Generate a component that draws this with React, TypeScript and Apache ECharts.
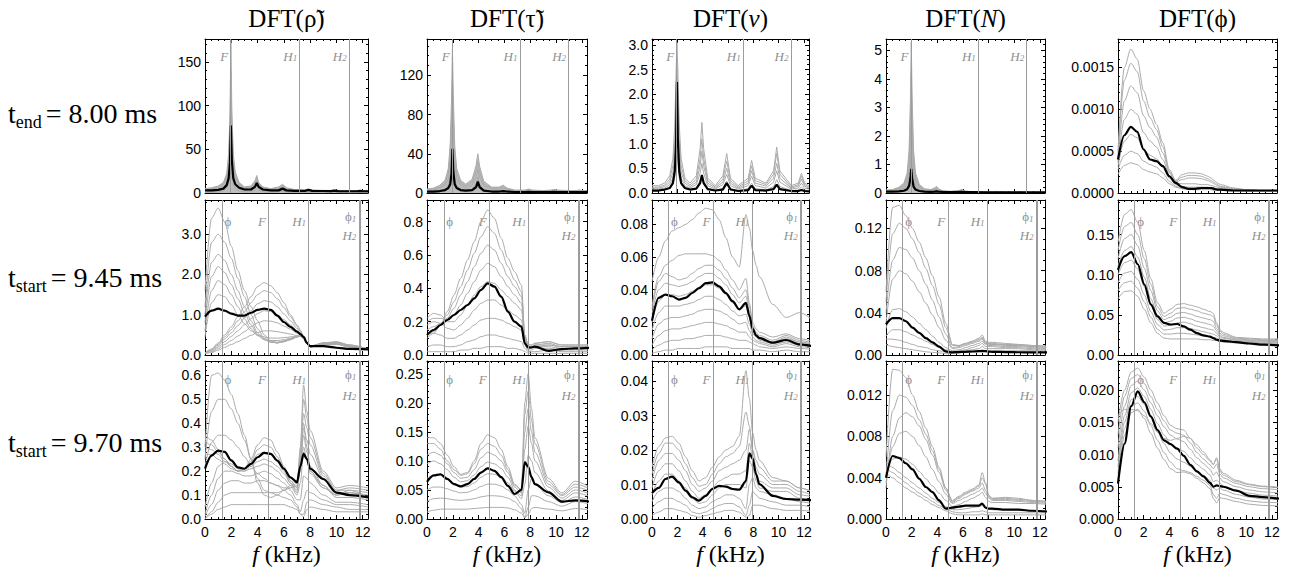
import React, { useEffect, useRef } from 'react';
import * as echarts from 'echarts';

// ---------- frequency grids (kHz) ----------
const F_SPIKE = [0, 0.5, 1.0, 1.4, 1.65, 1.8, 1.9, 1.97, 2.04, 2.15, 2.3, 2.6, 3.0, 3.5, 3.8, 3.94, 4.08, 4.4, 5.0, 5.6, 5.9, 6.2, 6.8, 7.6, 7.87, 8.15, 9.0, 9.6, 9.85, 10.1, 11.0, 11.55, 11.8, 12.05, 12.4];
const F_BASE = [0, 0.5, 1, 1.5, 2, 2.5, 3, 3.5, 4, 4.5, 5, 5.5, 6, 6.5, 7, 7.25, 7.5, 7.75, 8, 9, 10, 11, 12.4];
const F_C2 = [0, 0.52, 1.05, 1.57, 2.09, 2.61, 3.14, 3.66, 4.18, 4.7, 5.23, 5.75, 6.27, 6.79, 7.32, 7.58, 7.84, 8.1, 8.36, 9.41, 10.45, 11.5, 12.96];
const F_C3 = [0, 0.53, 1.06, 1.59, 2.12, 2.65, 3.18, 3.71, 4.24, 4.77, 5.3, 5.83, 6.36, 6.89, 7.42, 7.69, 7.95, 8.22, 8.48, 9.54, 10.6, 11.66, 13.14];
const F_C4 = [0, 0.52, 1.04, 1.55, 2.07, 2.59, 3.11, 3.62, 4.14, 4.66, 5.18, 5.69, 6.21, 6.73, 7.25, 7.5, 7.76, 8.02, 8.28, 9.32, 10.35, 11.39, 12.83];
const F_C5 = [0, 0.51, 1.03, 1.54, 2.05, 2.56, 3.08, 3.59, 4.1, 4.61, 5.13, 5.64, 6.15, 6.66, 7.18, 7.43, 7.69, 7.94, 8.2, 9.23, 10.25, 11.28, 12.71];

// ---------- row 1 : t_end = 8.00 ms ----------
const RHO_END_BLACK = [3, 3, 3.5, 5, 9, 17, 35, 77, 38, 17, 10, 6, 4, 4, 7, 11.5, 7, 4, 3, 3, 5, 3, 2.5, 2.5, 3.5, 2.5, 2.3, 2.2, 2.8, 2.2, 2, 2, 2.5, 2, 2];
const RHO_END_GRAY = [
  [5, 6, 8, 12, 22, 45, 90, 175, 95, 45, 24, 12, 7, 8, 14, 20, 12, 7, 5, 7, 10, 6, 4, 3, 4.5, 3.5, 3, 3, 3.5, 3, 2.5, 2.5, 3, 2.5, 2.5],
  [4, 5, 7, 11, 19, 38, 75, 140, 80, 38, 20, 10, 6, 7, 12, 17, 10, 6, 4.5, 6, 8, 5, 3.5, 3, 4, 3, 2.8, 2.8, 3.2, 2.8, 2.3, 2.3, 2.8, 2.3, 2.3],
  [3.5, 4, 6, 9, 16, 31, 60, 110, 63, 30, 17, 9, 5, 6, 10, 14, 9, 5, 4, 5, 7, 4.5, 3, 2.8, 3.5, 2.8, 2.5, 2.5, 3, 2.5, 2.2, 2.2, 2.6, 2.2, 2.1],
  [1, 1.5, 2.5, 5, 9, 18, 35, 60, 36, 17, 9, 4.5, 2.5, 3, 6, 9, 5, 2.5, 1.5, 2.5, 4, 2, 1, 1, 2, 1, 0.8, 0.8, 1.5, 0.8, 0.6, 0.6, 1.2, 0.6, 0.5],
  [0.5, 0.8, 1.2, 2.5, 5, 10, 18, 30, 18, 9, 5, 2.5, 1.2, 1.5, 3, 5, 3, 1.3, 0.8, 1.3, 2.2, 1.1, 0.5, 0.5, 1, 0.5, 0.4, 0.4, 0.8, 0.4, 0.3, 0.3, 0.6, 0.3, 0.3],
];
const TAU_END_BLACK = [1.5, 1.5, 2, 3, 5, 9, 20, 45, 22, 9, 5, 3, 2.5, 3, 6, 11.5, 6, 2.5, 1.5, 1.5, 2, 1.5, 1, 1, 1.3, 1, 1, 1, 1.2, 1, 0.8, 0.8, 1, 0.8, 0.8];
const TAU_END_GRAY = [
  [4, 5, 8, 13, 25, 50, 95, 147, 100, 48, 25, 13, 9, 14, 28, 40, 27, 12, 6, 6, 8, 5, 3, 3, 4, 3, 2.5, 3, 3.5, 3, 2.5, 2.5, 3, 2.5, 2.5],
  [3, 4, 6, 10, 20, 40, 75, 115, 78, 38, 20, 10, 7, 11, 22, 32, 21, 9, 5, 5, 6.5, 4, 2.5, 2.5, 3.5, 2.5, 2, 2.5, 3, 2.5, 2, 2, 2.5, 2, 2],
  [2, 3, 5, 8, 15, 30, 56, 85, 58, 28, 15, 8, 5, 8, 16, 24, 16, 7, 4, 4, 5, 3, 2, 2, 3, 2, 1.5, 2, 2.5, 2, 1.5, 1.5, 2, 1.5, 1.5],
  [1, 1.5, 2.5, 4, 8, 16, 30, 48, 31, 15, 8, 4, 2.5, 4, 9, 16, 9, 3.5, 2, 2, 3, 1.5, 1, 1, 1.5, 1, 0.8, 1, 1.2, 1, 0.8, 0.8, 1, 0.8, 0.8],
  [0.5, 0.8, 1.2, 2, 4, 8, 14, 22, 14, 7, 4, 2, 1.2, 2, 4, 7, 4, 1.5, 1, 1, 1.5, 0.8, 0.5, 0.5, 0.8, 0.5, 0.4, 0.5, 0.6, 0.5, 0.4, 0.4, 0.5, 0.4, 0.4],
];
const V_END_BLACK = [0.05, 0.05, 0.07, 0.1, 0.2, 0.45, 1.0, 2.25, 1.1, 0.45, 0.2, 0.1, 0.07, 0.09, 0.2, 0.36, 0.2, 0.08, 0.05, 0.07, 0.2, 0.07, 0.04, 0.06, 0.15, 0.06, 0.05, 0.08, 0.17, 0.08, 0.04, 0.04, 0.06, 0.04, 0.03];
const V_END_GRAY = [
  [0.15, 0.15, 0.2, 0.35, 0.7, 1.4, 2.4, 3.05, 2.5, 1.4, 0.7, 0.3, 0.2, 0.35, 0.9, 1.43, 0.9, 0.3, 0.15, 0.35, 0.8, 0.3, 0.15, 0.3, 0.66, 0.3, 0.2, 0.45, 0.93, 0.45, 0.15, 0.2, 0.4, 0.2, 0.15],
  [0.12, 0.12, 0.16, 0.28, 0.55, 1.1, 1.9, 2.7, 2.0, 1.1, 0.55, 0.25, 0.16, 0.28, 0.7, 1.1, 0.7, 0.25, 0.12, 0.28, 0.65, 0.25, 0.12, 0.25, 0.55, 0.25, 0.17, 0.38, 0.8, 0.38, 0.12, 0.17, 0.34, 0.17, 0.12],
  [0.1, 0.1, 0.13, 0.22, 0.42, 0.8, 1.5, 2.3, 1.6, 0.85, 0.42, 0.2, 0.13, 0.22, 0.55, 0.85, 0.55, 0.2, 0.1, 0.22, 0.5, 0.2, 0.1, 0.2, 0.45, 0.2, 0.14, 0.3, 0.6, 0.3, 0.1, 0.14, 0.28, 0.14, 0.1],
  [0.08, 0.08, 0.1, 0.17, 0.3, 0.55, 1.0, 1.6, 1.05, 0.55, 0.3, 0.15, 0.1, 0.17, 0.4, 0.6, 0.4, 0.15, 0.08, 0.17, 0.38, 0.15, 0.08, 0.15, 0.34, 0.15, 0.1, 0.22, 0.45, 0.22, 0.08, 0.1, 0.2, 0.1, 0.08],
  [0.05, 0.05, 0.06, 0.1, 0.18, 0.32, 0.6, 0.9, 0.62, 0.32, 0.18, 0.09, 0.06, 0.1, 0.25, 0.38, 0.25, 0.09, 0.05, 0.1, 0.24, 0.09, 0.05, 0.09, 0.2, 0.09, 0.06, 0.13, 0.27, 0.13, 0.05, 0.06, 0.12, 0.06, 0.05],
];
const N_END_BLACK = [0.05, 0.05, 0.06, 0.08, 0.13, 0.25, 0.5, 0.85, 0.5, 0.22, 0.12, 0.07, 0.05, 0.04, 0.05, 0.06, 0.05, 0.04, 0.03, 0.03, 0.04, 0.03, 0.03, 0.02, 0.02, 0.02, 0.02, 0.02, 0.02, 0.02, 0.02, 0.02, 0.02, 0.02, 0.02];
const N_END_GRAY = [
  [0.1, 0.12, 0.2, 0.35, 0.7, 1.5, 3.2, 5.3, 3.3, 1.5, 0.7, 0.3, 0.15, 0.12, 0.18, 0.23, 0.15, 0.08, 0.06, 0.08, 0.12, 0.07, 0.04, 0.03, 0.04, 0.03, 0.03, 0.03, 0.03, 0.03, 0.02, 0.02, 0.02, 0.02, 0.02],
  [0.09, 0.1, 0.16, 0.28, 0.55, 1.2, 2.5, 4.2, 2.6, 1.2, 0.55, 0.24, 0.12, 0.1, 0.15, 0.2, 0.13, 0.07, 0.05, 0.07, 0.1, 0.06, 0.04, 0.03, 0.03, 0.03, 0.03, 0.03, 0.03, 0.03, 0.02, 0.02, 0.02, 0.02, 0.02],
  [0.08, 0.09, 0.13, 0.22, 0.42, 0.9, 1.8, 3.0, 1.85, 0.88, 0.42, 0.19, 0.1, 0.08, 0.12, 0.16, 0.11, 0.06, 0.04, 0.06, 0.08, 0.05, 0.03, 0.03, 0.03, 0.03, 0.02, 0.02, 0.02, 0.02, 0.02, 0.02, 0.02, 0.02, 0.02],
  [0.06, 0.07, 0.1, 0.16, 0.28, 0.58, 1.1, 1.8, 1.12, 0.55, 0.27, 0.13, 0.08, 0.06, 0.09, 0.12, 0.08, 0.05, 0.03, 0.05, 0.06, 0.04, 0.03, 0.02, 0.02, 0.02, 0.02, 0.02, 0.02, 0.02, 0.02, 0.02, 0.02, 0.02, 0.02],
  [0.05, 0.06, 0.08, 0.12, 0.2, 0.4, 0.75, 1.2, 0.76, 0.38, 0.19, 0.1, 0.06, 0.05, 0.07, 0.09, 0.06, 0.04, 0.03, 0.04, 0.05, 0.03, 0.02, 0.02, 0.02, 0.02, 0.02, 0.02, 0.02, 0.02, 0.02, 0.02, 0.02, 0.02, 0.02],
];
const PHI_END_BLACK = [0.0004, 0.00069, 0.00079, 0.00073, 0.00052, 0.0004, 0.00038, 0.00032, 0.0002, 0.00012, 0.00007, 0.00005, 0.00005, 0.00006, 0.00006, 0.00006, 0.00005, 0.00004, 0.00004, 0.00003, 0.00003, 0.00003, 0.00003];
const PHI_END_GRAY = [
  [0.0005, 0.0015, 0.00172, 0.0016, 0.00122, 0.001, 0.00082, 0.0006, 0.00028, 0.00015, 0.00022, 0.00024, 0.00024, 0.00023, 0.0002, 0.00018, 0.00015, 0.00012, 0.0001, 0.00006, 0.00004, 0.00003, 0.00003],
  [0.00045, 0.00135, 0.00155, 0.00145, 0.0011, 0.0009, 0.00076, 0.00055, 0.00026, 0.00014, 0.00019, 0.00021, 0.00021, 0.0002, 0.00017, 0.00015, 0.00013, 0.0001, 0.00008, 0.00005, 0.00004, 0.00003, 0.00003],
  [0.0004, 0.0011, 0.00128, 0.0012, 0.00092, 0.00078, 0.00067, 0.00048, 0.00024, 0.00013, 0.00016, 0.00018, 0.00018, 0.00017, 0.00015, 0.00013, 0.00011, 0.00009, 0.00007, 0.00005, 0.00004, 0.00003, 0.00003],
  [0.00036, 0.00088, 0.001, 0.00094, 0.00072, 0.00062, 0.00055, 0.0004, 0.00021, 0.00012, 0.00011, 0.00011, 0.00011, 0.0001, 0.0001, 0.00009, 0.00008, 0.00007, 0.00006, 0.00004, 0.00003, 0.00003, 0.00003],
  [0.00032, 0.00062, 0.0007, 0.00066, 0.00052, 0.00045, 0.00041, 0.00031, 0.00018, 0.0001, 0.00008, 0.00007, 0.00007, 0.00007, 0.00007, 0.00006, 0.00006, 0.00005, 0.00005, 0.00004, 0.00003, 0.00003, 0.00003],
  [0.00028, 0.00045, 0.0005, 0.00047, 0.00038, 0.00034, 0.00031, 0.00024, 0.00014, 0.00008, 0.00006, 0.00005, 0.00005, 0.00005, 0.00005, 0.00005, 0.00004, 0.00004, 0.00004, 0.00003, 0.00003, 0.00003, 0.00002],
  [0.00022, 0.00033, 0.00036, 0.00034, 0.00028, 0.00025, 0.00023, 0.00018, 0.00011, 0.00007, 0.00005, 0.00004, 0.00004, 0.00004, 0.00004, 0.00004, 0.00003, 0.00003, 0.00003, 0.00003, 0.00002, 0.00002, 0.00002],
];

// ---------- row 2 : t_start = 9.45 ms ----------
const RHO_A_BLACK = [0.95, 1.1, 1.15, 1.1, 1.03, 0.98, 0.98, 1.05, 1.12, 1.15, 1.12, 0.98, 0.82, 0.7, 0.58, 0.52, 0.45, 0.3, 0.22, 0.22, 0.18, 0.15, 0.14];
const RHO_A_GRAY = [
  [1.6, 3.4, 3.65, 3.3, 2.7, 2.1, 1.6, 1.2, 0.85, 0.5, 0.35, 0.3, 0.35, 0.4, 0.48, 0.5, 0.45, 0.3, 0.2, 0.3, 0.32, 0.25, 0.15],
  [1.2, 2.8, 3.0, 2.8, 2.4, 1.9, 1.45, 1.0, 0.65, 0.42, 0.32, 0.3, 0.33, 0.38, 0.45, 0.48, 0.44, 0.3, 0.2, 0.29, 0.3, 0.24, 0.15],
  [1.0, 2.3, 2.5, 2.35, 2.0, 1.6, 1.2, 0.85, 0.55, 0.38, 0.32, 0.3, 0.33, 0.38, 0.44, 0.47, 0.43, 0.3, 0.2, 0.28, 0.29, 0.23, 0.15],
  [0.8, 1.95, 2.2, 2.05, 1.75, 1.4, 1.05, 0.75, 0.5, 0.38, 0.33, 0.32, 0.35, 0.4, 0.45, 0.47, 0.43, 0.3, 0.2, 0.27, 0.28, 0.22, 0.15],
  [0.6, 1.6, 1.85, 1.75, 1.5, 1.2, 0.9, 0.65, 0.48, 0.4, 0.36, 0.36, 0.38, 0.42, 0.46, 0.47, 0.43, 0.3, 0.2, 0.26, 0.27, 0.21, 0.15],
  [0.45, 1.3, 1.5, 1.45, 1.25, 1.0, 0.78, 0.6, 0.5, 0.45, 0.42, 0.42, 0.43, 0.45, 0.47, 0.47, 0.43, 0.3, 0.2, 0.25, 0.26, 0.2, 0.15],
  [0.05, 0.15, 0.3, 0.5, 0.7, 0.95, 1.2, 1.45, 1.7, 1.8, 1.72, 1.55, 1.3, 1.0, 0.75, 0.62, 0.45, 0.3, 0.22, 0.3, 0.33, 0.25, 0.15],
  [0.05, 0.13, 0.27, 0.45, 0.63, 0.85, 1.07, 1.3, 1.5, 1.6, 1.55, 1.4, 1.18, 0.95, 0.72, 0.6, 0.44, 0.3, 0.22, 0.3, 0.32, 0.24, 0.15],
  [0.05, 0.12, 0.24, 0.4, 0.55, 0.73, 0.92, 1.1, 1.27, 1.35, 1.32, 1.2, 1.02, 0.85, 0.66, 0.58, 0.44, 0.3, 0.22, 0.29, 0.31, 0.23, 0.15],
  [0.05, 0.1, 0.2, 0.33, 0.46, 0.6, 0.75, 0.9, 1.03, 1.1, 1.08, 1.0, 0.88, 0.75, 0.6, 0.55, 0.43, 0.3, 0.22, 0.28, 0.3, 0.22, 0.15],
  [0.04, 0.08, 0.16, 0.26, 0.36, 0.47, 0.58, 0.7, 0.8, 0.85, 0.84, 0.8, 0.72, 0.64, 0.54, 0.5, 0.42, 0.3, 0.21, 0.27, 0.28, 0.21, 0.15],
  [0.03, 0.06, 0.12, 0.19, 0.26, 0.33, 0.41, 0.49, 0.56, 0.6, 0.6, 0.58, 0.55, 0.52, 0.48, 0.46, 0.4, 0.28, 0.2, 0.26, 0.27, 0.2, 0.14],
];
const TAU_A_BLACK = [0.12, 0.15, 0.18, 0.21, 0.24, 0.27, 0.3, 0.34, 0.39, 0.43, 0.41, 0.35, 0.26, 0.2, 0.17, 0.07, 0.045, 0.045, 0.05, 0.025, 0.035, 0.04, 0.045];
const TAU_A_GRAY = [
  [0.1, 0.13, 0.18, 0.26, 0.36, 0.46, 0.57, 0.68, 0.8, 0.87, 0.82, 0.7, 0.58, 0.5, 0.42, 0.12, 0.06, 0.06, 0.07, 0.08, 0.06, 0.06, 0.06],
  [0.12, 0.14, 0.18, 0.24, 0.32, 0.41, 0.51, 0.61, 0.71, 0.77, 0.73, 0.63, 0.53, 0.45, 0.38, 0.12, 0.06, 0.06, 0.07, 0.08, 0.06, 0.06, 0.06],
  [0.15, 0.17, 0.19, 0.22, 0.28, 0.36, 0.44, 0.53, 0.61, 0.66, 0.63, 0.55, 0.47, 0.41, 0.35, 0.11, 0.05, 0.05, 0.06, 0.07, 0.05, 0.05, 0.05],
  [0.2, 0.22, 0.22, 0.21, 0.24, 0.3, 0.37, 0.44, 0.51, 0.55, 0.53, 0.47, 0.41, 0.36, 0.31, 0.1, 0.05, 0.05, 0.06, 0.06, 0.05, 0.05, 0.05],
  [0.22, 0.25, 0.24, 0.2, 0.2, 0.24, 0.3, 0.36, 0.41, 0.44, 0.43, 0.39, 0.35, 0.31, 0.27, 0.09, 0.05, 0.05, 0.05, 0.06, 0.05, 0.05, 0.05],
  [0.18, 0.2, 0.19, 0.16, 0.15, 0.18, 0.22, 0.27, 0.31, 0.33, 0.33, 0.3, 0.27, 0.24, 0.21, 0.08, 0.04, 0.04, 0.05, 0.05, 0.04, 0.04, 0.04],
  [0.12, 0.13, 0.12, 0.1, 0.1, 0.12, 0.15, 0.18, 0.21, 0.22, 0.22, 0.21, 0.19, 0.17, 0.15, 0.06, 0.03, 0.03, 0.04, 0.04, 0.03, 0.03, 0.03],
  [0.05, 0.06, 0.06, 0.05, 0.05, 0.06, 0.08, 0.09, 0.11, 0.12, 0.12, 0.11, 0.1, 0.09, 0.08, 0.04, 0.02, 0.02, 0.02, 0.03, 0.02, 0.02, 0.02],
  [0.02, 0.02, 0.02, 0.02, 0.02, 0.03, 0.03, 0.04, 0.04, 0.05, 0.05, 0.05, 0.04, 0.04, 0.03, 0.02, 0.01, 0.01, 0.01, 0.01, 0.01, 0.01, 0.01],
];
const V_A_BLACK = [0.021, 0.035, 0.037, 0.036, 0.034, 0.035, 0.038, 0.041, 0.044, 0.0445, 0.042, 0.038, 0.033, 0.028, 0.032, 0.024, 0.016, 0.012, 0.0103, 0.0075, 0.0092, 0.0065, 0.0045];
const V_A_GRAY = [
  [0.045, 0.06, 0.07, 0.076, 0.078, 0.08, 0.083, 0.087, 0.09, 0.089, 0.083, 0.072, 0.06, 0.054, 0.086, 0.078, 0.064, 0.055, 0.048, 0.031, 0.023, 0.026, 0.018],
  [0.03, 0.048, 0.055, 0.058, 0.061, 0.062, 0.062, 0.062, 0.062, 0.061, 0.058, 0.052, 0.046, 0.04, 0.047, 0.032, 0.02, 0.016, 0.014, 0.011, 0.013, 0.01, 0.007],
  [0.028, 0.045, 0.05, 0.048, 0.046, 0.047, 0.05, 0.053, 0.055, 0.055, 0.052, 0.047, 0.041, 0.035, 0.04, 0.03, 0.018, 0.014, 0.012, 0.009, 0.012, 0.009, 0.006],
  [0.025, 0.04, 0.044, 0.043, 0.042, 0.043, 0.045, 0.048, 0.05, 0.05, 0.047, 0.043, 0.037, 0.032, 0.036, 0.027, 0.017, 0.013, 0.011, 0.008, 0.011, 0.008, 0.006],
  [0.02, 0.033, 0.037, 0.037, 0.036, 0.037, 0.039, 0.041, 0.043, 0.043, 0.041, 0.037, 0.032, 0.028, 0.03, 0.023, 0.015, 0.012, 0.01, 0.008, 0.01, 0.008, 0.005],
  [0.015, 0.026, 0.03, 0.03, 0.03, 0.031, 0.032, 0.034, 0.036, 0.036, 0.034, 0.031, 0.027, 0.024, 0.025, 0.019, 0.013, 0.011, 0.009, 0.007, 0.009, 0.007, 0.005],
  [0.01, 0.019, 0.022, 0.023, 0.023, 0.024, 0.025, 0.027, 0.028, 0.028, 0.027, 0.025, 0.022, 0.019, 0.02, 0.015, 0.011, 0.009, 0.008, 0.006, 0.008, 0.006, 0.004],
  [0.006, 0.012, 0.015, 0.016, 0.016, 0.017, 0.018, 0.019, 0.02, 0.02, 0.019, 0.018, 0.016, 0.014, 0.014, 0.011, 0.009, 0.008, 0.007, 0.005, 0.007, 0.005, 0.004],
  [0.003, 0.006, 0.008, 0.009, 0.009, 0.01, 0.01, 0.011, 0.012, 0.012, 0.012, 0.011, 0.01, 0.009, 0.009, 0.008, 0.007, 0.006, 0.005, 0.004, 0.005, 0.004, 0.003],
  [0.001, 0.002, 0.003, 0.003, 0.004, 0.004, 0.004, 0.004, 0.005, 0.005, 0.005, 0.005, 0.004, 0.004, 0.004, 0.004, 0.003, 0.003, 0.003, 0.002, 0.003, 0.002, 0.002],
];
const N_A_BLACK = [0.029, 0.035, 0.035, 0.032, 0.026, 0.021, 0.016, 0.012, 0.008, 0.0035, 0.0025, 0.0028, 0.003, 0.0033, 0.0036, 0.0037, 0.0036, 0.0032, 0.003, 0.0028, 0.0026, 0.0025, 0.0024];
const N_A_GRAY = [
  [0.06, 0.14, 0.142, 0.132, 0.12, 0.107, 0.092, 0.075, 0.055, 0.03, 0.01, 0.009, 0.011, 0.013, 0.016, 0.019, 0.013, 0.012, 0.012, 0.011, 0.01, 0.009, 0.008],
  [0.05, 0.115, 0.125, 0.12, 0.11, 0.097, 0.082, 0.066, 0.048, 0.026, 0.009, 0.009, 0.011, 0.013, 0.015, 0.017, 0.012, 0.011, 0.011, 0.01, 0.01, 0.009, 0.008],
  [0.04, 0.09, 0.102, 0.1, 0.092, 0.08, 0.067, 0.052, 0.036, 0.02, 0.007, 0.008, 0.01, 0.012, 0.014, 0.016, 0.011, 0.011, 0.01, 0.01, 0.009, 0.008, 0.007],
  [0.03, 0.072, 0.08, 0.077, 0.07, 0.06, 0.049, 0.038, 0.026, 0.014, 0.006, 0.007, 0.009, 0.011, 0.013, 0.015, 0.011, 0.01, 0.01, 0.009, 0.009, 0.008, 0.007],
  [0.025, 0.043, 0.044, 0.041, 0.036, 0.03, 0.024, 0.018, 0.012, 0.007, 0.004, 0.005, 0.007, 0.009, 0.011, 0.013, 0.01, 0.009, 0.009, 0.008, 0.008, 0.007, 0.006],
  [0.018, 0.024, 0.024, 0.022, 0.019, 0.016, 0.013, 0.01, 0.007, 0.005, 0.003, 0.004, 0.005, 0.007, 0.009, 0.011, 0.008, 0.008, 0.008, 0.007, 0.007, 0.006, 0.006],
  [0.015, 0.015, 0.014, 0.012, 0.01, 0.008, 0.007, 0.005, 0.004, 0.003, 0.002, 0.003, 0.004, 0.005, 0.006, 0.008, 0.006, 0.006, 0.006, 0.006, 0.006, 0.005, 0.005],
  [0.01, 0.008, 0.007, 0.006, 0.005, 0.004, 0.003, 0.0025, 0.002, 0.0015, 0.0015, 0.002, 0.003, 0.003, 0.004, 0.005, 0.004, 0.004, 0.004, 0.004, 0.004, 0.004, 0.004],
];
const PHI_A_BLACK = [0.106, 0.123, 0.128, 0.113, 0.088, 0.063, 0.048, 0.04, 0.038, 0.0386, 0.0357, 0.0315, 0.0273, 0.0244, 0.023, 0.021, 0.019, 0.018, 0.0176, 0.016, 0.0143, 0.013, 0.0118];
const PHI_A_GRAY = [
  [0.14, 0.175, 0.181, 0.165, 0.13, 0.095, 0.065, 0.052, 0.057, 0.063, 0.064, 0.062, 0.06, 0.057, 0.054, 0.052, 0.04, 0.032, 0.028, 0.022, 0.021, 0.02, 0.02],
  [0.13, 0.16, 0.165, 0.15, 0.12, 0.088, 0.06, 0.048, 0.052, 0.058, 0.059, 0.057, 0.055, 0.052, 0.05, 0.048, 0.037, 0.03, 0.026, 0.021, 0.02, 0.019, 0.019],
  [0.12, 0.145, 0.15, 0.136, 0.108, 0.08, 0.055, 0.044, 0.047, 0.052, 0.053, 0.051, 0.048, 0.046, 0.044, 0.042, 0.033, 0.027, 0.024, 0.02, 0.019, 0.018, 0.018],
  [0.11, 0.13, 0.135, 0.122, 0.097, 0.07, 0.05, 0.04, 0.042, 0.046, 0.047, 0.045, 0.042, 0.04, 0.038, 0.036, 0.03, 0.025, 0.022, 0.019, 0.018, 0.017, 0.017],
  [0.1, 0.115, 0.118, 0.107, 0.085, 0.062, 0.044, 0.036, 0.037, 0.04, 0.041, 0.039, 0.036, 0.034, 0.032, 0.031, 0.027, 0.023, 0.021, 0.018, 0.017, 0.016, 0.016],
  [0.09, 0.102, 0.104, 0.094, 0.075, 0.054, 0.038, 0.031, 0.032, 0.034, 0.034, 0.033, 0.031, 0.029, 0.027, 0.026, 0.024, 0.021, 0.019, 0.017, 0.016, 0.015, 0.015],
  [0.08, 0.09, 0.092, 0.083, 0.066, 0.047, 0.032, 0.026, 0.026, 0.027, 0.027, 0.026, 0.025, 0.024, 0.023, 0.022, 0.021, 0.019, 0.018, 0.016, 0.015, 0.014, 0.014],
  [0.07, 0.079, 0.08, 0.073, 0.057, 0.04, 0.027, 0.021, 0.02, 0.02, 0.02, 0.02, 0.02, 0.019, 0.019, 0.018, 0.018, 0.017, 0.016, 0.015, 0.014, 0.013, 0.013],
];

// ---------- row 3 : t_start = 9.70 ms ----------
const RHO_B_BLACK = [0.21, 0.265, 0.286, 0.28, 0.245, 0.216, 0.21, 0.23, 0.258, 0.276, 0.272, 0.244, 0.21, 0.174, 0.153, 0.22, 0.272, 0.25, 0.21, 0.167, 0.11, 0.1, 0.09];
const RHO_B_GRAY = [
  [0.3, 0.6, 0.61, 0.58, 0.52, 0.44, 0.35, 0.25, 0.15, 0.1, 0.09, 0.1, 0.12, 0.14, 0.16, 0.25, 0.4, 0.3, 0.22, 0.14, 0.1, 0.12, 0.09],
  [0.25, 0.45, 0.5, 0.5, 0.46, 0.4, 0.33, 0.25, 0.17, 0.12, 0.11, 0.11, 0.12, 0.13, 0.15, 0.22, 0.35, 0.28, 0.2, 0.13, 0.1, 0.11, 0.09],
  [0.22, 0.32, 0.35, 0.35, 0.33, 0.3, 0.26, 0.22, 0.19, 0.17, 0.15, 0.14, 0.13, 0.13, 0.14, 0.2, 0.3, 0.25, 0.19, 0.13, 0.1, 0.11, 0.09],
  [0.35, 0.33, 0.29, 0.25, 0.22, 0.2, 0.21, 0.25, 0.31, 0.34, 0.33, 0.28, 0.22, 0.16, 0.13, 0.3, 0.56, 0.45, 0.37, 0.2, 0.13, 0.14, 0.13],
  [0.32, 0.31, 0.28, 0.25, 0.22, 0.2, 0.21, 0.24, 0.29, 0.31, 0.3, 0.26, 0.21, 0.16, 0.13, 0.28, 0.5, 0.42, 0.34, 0.19, 0.12, 0.13, 0.12],
  [0.3, 0.29, 0.27, 0.24, 0.22, 0.2, 0.21, 0.23, 0.27, 0.28, 0.27, 0.24, 0.2, 0.15, 0.12, 0.25, 0.44, 0.38, 0.31, 0.18, 0.12, 0.12, 0.11],
  [0.27, 0.27, 0.25, 0.23, 0.21, 0.2, 0.2, 0.22, 0.24, 0.25, 0.24, 0.22, 0.19, 0.15, 0.11, 0.22, 0.38, 0.33, 0.27, 0.17, 0.11, 0.11, 0.1],
  [0.05, 0.15, 0.22, 0.24, 0.23, 0.21, 0.2, 0.21, 0.22, 0.23, 0.22, 0.2, 0.17, 0.14, 0.1, 0.15, 0.28, 0.25, 0.2, 0.14, 0.09, 0.09, 0.08],
  [0.02, 0.1, 0.17, 0.2, 0.2, 0.19, 0.18, 0.18, 0.19, 0.2, 0.19, 0.17, 0.15, 0.12, 0.08, 0.08, 0.18, 0.17, 0.15, 0.1, 0.07, 0.07, 0.06],
  [0.01, 0.06, 0.12, 0.15, 0.16, 0.16, 0.15, 0.15, 0.16, 0.16, 0.15, 0.14, 0.12, 0.1, 0.06, 0.03, 0.08, 0.12, 0.11, 0.08, 0.06, 0.06, 0.05],
  [0.0, 0.03, 0.07, 0.1, 0.11, 0.11, 0.11, 0.11, 0.11, 0.11, 0.11, 0.1, 0.09, 0.08, 0.05, 0.02, 0.02, 0.07, 0.08, 0.06, 0.05, 0.04, 0.04],
  [0.0, 0.02, 0.04, 0.05, 0.06, 0.06, 0.06, 0.06, 0.06, 0.06, 0.06, 0.06, 0.06, 0.05, 0.04, 0.02, 0.01, 0.04, 0.05, 0.04, 0.03, 0.03, 0.03],
];
const TAU_B_BLACK = [0.064, 0.075, 0.077, 0.069, 0.06, 0.056, 0.06, 0.069, 0.08, 0.087, 0.083, 0.072, 0.057, 0.043, 0.05, 0.098, 0.09, 0.072, 0.06, 0.046, 0.03, 0.032, 0.029];
const TAU_B_GRAY = [
  [0.14, 0.14, 0.13, 0.11, 0.09, 0.077, 0.08, 0.1, 0.13, 0.145, 0.14, 0.12, 0.09, 0.06, 0.05, 0.2, 0.25, 0.19, 0.14, 0.07, 0.045, 0.065, 0.05],
  [0.13, 0.13, 0.12, 0.1, 0.085, 0.075, 0.078, 0.095, 0.12, 0.13, 0.125, 0.11, 0.085, 0.058, 0.05, 0.18, 0.22, 0.17, 0.13, 0.065, 0.042, 0.06, 0.048],
  [0.11, 0.115, 0.11, 0.095, 0.08, 0.07, 0.072, 0.085, 0.105, 0.115, 0.11, 0.1, 0.08, 0.055, 0.045, 0.15, 0.19, 0.15, 0.115, 0.06, 0.04, 0.055, 0.045],
  [0.095, 0.1, 0.095, 0.085, 0.072, 0.064, 0.066, 0.076, 0.09, 0.098, 0.095, 0.087, 0.072, 0.05, 0.04, 0.12, 0.16, 0.13, 0.1, 0.055, 0.036, 0.05, 0.04],
  [0.07, 0.075, 0.075, 0.068, 0.06, 0.055, 0.056, 0.062, 0.072, 0.078, 0.077, 0.072, 0.062, 0.048, 0.035, 0.06, 0.11, 0.1, 0.08, 0.048, 0.032, 0.045, 0.036],
  [0.05, 0.055, 0.055, 0.052, 0.048, 0.045, 0.046, 0.05, 0.056, 0.06, 0.06, 0.057, 0.05, 0.04, 0.025, 0.01, 0.05, 0.07, 0.06, 0.04, 0.028, 0.038, 0.03],
  [0.03, 0.035, 0.036, 0.035, 0.033, 0.032, 0.033, 0.035, 0.038, 0.04, 0.04, 0.039, 0.036, 0.03, 0.018, 0.003, 0.02, 0.04, 0.04, 0.03, 0.022, 0.03, 0.024],
  [0.012, 0.015, 0.017, 0.017, 0.017, 0.017, 0.017, 0.018, 0.019, 0.02, 0.02, 0.02, 0.019, 0.016, 0.01, 0.002, 0.008, 0.018, 0.02, 0.017, 0.014, 0.018, 0.015],
];
const V_B_BLACK = [0.0075, 0.009, 0.0116, 0.0123, 0.0106, 0.0082, 0.0063, 0.0053, 0.0067, 0.0087, 0.0096, 0.0094, 0.0087, 0.0085, 0.011, 0.019, 0.0175, 0.013, 0.0101, 0.0067, 0.0058, 0.0056, 0.0053];
const V_B_GRAY = [
  [0.015, 0.021, 0.0235, 0.024, 0.022, 0.018, 0.014, 0.011, 0.012, 0.015, 0.018, 0.02, 0.021, 0.024, 0.043, 0.035, 0.025, 0.02, 0.017, 0.012, 0.011, 0.009, 0.007],
  [0.013, 0.019, 0.022, 0.022, 0.02, 0.016, 0.012, 0.0095, 0.01, 0.013, 0.016, 0.018, 0.019, 0.021, 0.031, 0.027, 0.02, 0.017, 0.015, 0.011, 0.011, 0.009, 0.007],
  [0.011, 0.017, 0.019, 0.019, 0.017, 0.014, 0.01, 0.008, 0.009, 0.011, 0.014, 0.015, 0.016, 0.017, 0.02, 0.026, 0.02, 0.015, 0.013, 0.01, 0.01, 0.008, 0.006],
  [0.009, 0.014, 0.016, 0.016, 0.014, 0.011, 0.008, 0.006, 0.007, 0.009, 0.011, 0.012, 0.013, 0.013, 0.014, 0.022, 0.018, 0.013, 0.011, 0.009, 0.009, 0.007, 0.006],
  [0.007, 0.011, 0.013, 0.013, 0.011, 0.009, 0.006, 0.0045, 0.005, 0.007, 0.009, 0.01, 0.01, 0.01, 0.009, 0.017, 0.015, 0.011, 0.009, 0.008, 0.008, 0.006, 0.005],
  [0.005, 0.008, 0.009, 0.009, 0.008, 0.006, 0.004, 0.003, 0.0035, 0.005, 0.006, 0.007, 0.007, 0.006, 0.003, 0.01, 0.012, 0.009, 0.008, 0.007, 0.006, 0.005, 0.004],
  [0.003, 0.005, 0.006, 0.006, 0.005, 0.004, 0.002, 0.0015, 0.002, 0.003, 0.004, 0.0045, 0.0045, 0.0035, 0.001, 0.004, 0.008, 0.007, 0.006, 0.005, 0.004, 0.004, 0.003],
  [0.001, 0.002, 0.003, 0.003, 0.0025, 0.002, 0.001, 0.0005, 0.001, 0.0015, 0.002, 0.0025, 0.0025, 0.002, 0.0005, 0.001, 0.004, 0.004, 0.004, 0.003, 0.0025, 0.0025, 0.002],
];
const N_B_BLACK = [0.004, 0.0061, 0.0059, 0.0054, 0.0048, 0.0039, 0.0031, 0.0026, 0.0018, 0.001, 0.0011, 0.0012, 0.0013, 0.0013, 0.0013, 0.0015, 0.0011, 0.001, 0.001, 0.0009, 0.0009, 0.0008, 0.0007];
const N_B_GRAY = [
  [0.006, 0.0145, 0.0144, 0.0137, 0.012, 0.0104, 0.0088, 0.007, 0.005, 0.003, 0.0018, 0.0022, 0.0026, 0.0029, 0.0033, 0.0045, 0.0035, 0.0023, 0.002, 0.0021, 0.002, 0.0018, 0.0017],
  [0.004, 0.0105, 0.012, 0.0118, 0.011, 0.0096, 0.0082, 0.0066, 0.0048, 0.003, 0.0017, 0.0021, 0.0025, 0.0028, 0.0032, 0.004, 0.0034, 0.0022, 0.002, 0.002, 0.0019, 0.0018, 0.0016],
  [0.003, 0.008, 0.0098, 0.0103, 0.0099, 0.009, 0.0077, 0.0062, 0.0045, 0.0028, 0.0016, 0.002, 0.0024, 0.0027, 0.003, 0.0035, 0.0028, 0.0021, 0.0019, 0.0019, 0.0018, 0.0017, 0.0016],
  [0.0035, 0.007, 0.0083, 0.0085, 0.008, 0.0071, 0.006, 0.0048, 0.0036, 0.0024, 0.0015, 0.0018, 0.0021, 0.0024, 0.0027, 0.003, 0.0025, 0.002, 0.0018, 0.0018, 0.0017, 0.0016, 0.0015],
  [0.0045, 0.0058, 0.006, 0.0058, 0.0053, 0.0046, 0.0039, 0.0032, 0.0025, 0.0018, 0.0012, 0.0014, 0.0017, 0.002, 0.0023, 0.0026, 0.0021, 0.0017, 0.0016, 0.0016, 0.0015, 0.0015, 0.0014],
  [0.0055, 0.005, 0.0045, 0.004, 0.0035, 0.003, 0.0025, 0.002, 0.0016, 0.0012, 0.0009, 0.0009, 0.001, 0.0011, 0.0012, 0.0013, 0.0011, 0.001, 0.0009, 0.0009, 0.0009, 0.0008, 0.0008],
  [0.005, 0.0045, 0.004, 0.0035, 0.003, 0.0025, 0.0021, 0.0017, 0.0013, 0.001, 0.0007, 0.0006, 0.0006, 0.0007, 0.0007, 0.0008, 0.0007, 0.0006, 0.0006, 0.0006, 0.0006, 0.0006, 0.0006],
  [0.0045, 0.004, 0.0035, 0.003, 0.0026, 0.0022, 0.0018, 0.0014, 0.0011, 0.0008, 0.0005, 0.0004, 0.0004, 0.0004, 0.0004, 0.0005, 0.0004, 0.0004, 0.0004, 0.0004, 0.0004, 0.0004, 0.0004],
];
const PHI_B_BLACK = [0.0055, 0.0117, 0.0175, 0.0198, 0.0181, 0.0159, 0.0138, 0.0122, 0.0116, 0.0109, 0.0098, 0.0084, 0.0074, 0.0066, 0.0056, 0.005, 0.0052, 0.0051, 0.005, 0.0044, 0.0036, 0.0034, 0.0031];
const PHI_B_GRAY = [
  [0.015, 0.02, 0.0228, 0.0234, 0.022, 0.02, 0.018, 0.016, 0.0145, 0.014, 0.0138, 0.0125, 0.011, 0.01, 0.009, 0.0085, 0.0093, 0.0075, 0.0068, 0.0058, 0.0053, 0.005, 0.0048],
  [0.013, 0.019, 0.0218, 0.0224, 0.021, 0.019, 0.017, 0.0152, 0.0138, 0.0133, 0.013, 0.0118, 0.0103, 0.0093, 0.0084, 0.0078, 0.0085, 0.007, 0.0064, 0.0055, 0.005, 0.0047, 0.0045],
  [0.011, 0.0175, 0.0207, 0.0214, 0.02, 0.018, 0.016, 0.0143, 0.013, 0.0124, 0.012, 0.0108, 0.0095, 0.0086, 0.0077, 0.0068, 0.0073, 0.0064, 0.0058, 0.005, 0.0045, 0.0042, 0.004],
  [0.009, 0.016, 0.0196, 0.0203, 0.019, 0.017, 0.0148, 0.013, 0.0117, 0.011, 0.0105, 0.0095, 0.0085, 0.0077, 0.0068, 0.0058, 0.006, 0.0056, 0.0051, 0.0044, 0.004, 0.0037, 0.0035],
  [0.008, 0.015, 0.0185, 0.019, 0.0178, 0.0158, 0.0135, 0.0117, 0.0102, 0.0093, 0.0088, 0.0082, 0.0075, 0.0068, 0.006, 0.0048, 0.0045, 0.0048, 0.0045, 0.0038, 0.0034, 0.0031, 0.003],
  [0.007, 0.014, 0.0175, 0.018, 0.0167, 0.0145, 0.0122, 0.0103, 0.0088, 0.0078, 0.0075, 0.0072, 0.0066, 0.006, 0.0052, 0.0038, 0.0032, 0.004, 0.0038, 0.0032, 0.0028, 0.0026, 0.0025],
  [0.006, 0.013, 0.0165, 0.017, 0.0156, 0.0133, 0.011, 0.0092, 0.0078, 0.0072, 0.0073, 0.007, 0.0063, 0.0056, 0.0047, 0.0032, 0.0025, 0.0033, 0.0032, 0.0027, 0.0023, 0.0021, 0.002],
  [0.016, 0.017, 0.017, 0.0168, 0.016, 0.0148, 0.0135, 0.0125, 0.0122, 0.0125, 0.0128, 0.0125, 0.0115, 0.0104, 0.0092, 0.0084, 0.0095, 0.0078, 0.0071, 0.006, 0.0054, 0.0051, 0.0049],
];

// ---------- axes ----------
const Y_MAX = [[176, 157, 3.12, 5.4, 0.00184], [3.85, 0.93, 0.095, 0.147, 0.193], [0.66, 0.272, 0.0458, 0.0153, 0.0245]];
const Y_STEP = [[50, 40, 0.5, 1, 0.0005], [1, 0.2, 0.02, 0.04, 0.05], [0.1, 0.05, 0.01, 0.004, 0.005]];
const Y_DEC = [[0, 0, 1, 0, 4], [1, 1, 2, 2, 2], [1, 2, 2, 3, 3]];
const Y_MINOR = [[5, 4, 5, 5, 5], [5, 4, 4, 4, 5], [5, 5, 5, 4, 5]];
const X_TICKS = [0, 2, 4, 6, 8, 10, 12];

// ---------- reference frequencies ----------
const LINES_END = [1.95, 7.2, 10.97];
const LINES_START = [1.3, 4.82, 7.88, 11.7, 11.82];

const COL_TITLES = ['{n|DFT(ρ̃)}', '{n|DFT(τ̃)}', '{n|DFT(}{i|v}{n|)}', '{n|DFT(}{i|N}{n|)}', '{n|DFT(ϕ)}'];
const ROW_LABELS = [['end', '= 8.00 ms'], ['start', '= 9.45 ms'], ['start', '= 9.70 ms']];

const ROW_FREQ = [
  [F_SPIKE, F_SPIKE, F_SPIKE, F_SPIKE, F_BASE],
  [F_BASE, F_C2, F_C3, F_C4, F_C5],
  [F_BASE, F_C2, F_C3, F_C4, F_C5],
];
const ROW_DATA = [
  [[RHO_END_BLACK, RHO_END_GRAY], [TAU_END_BLACK, TAU_END_GRAY], [V_END_BLACK, V_END_GRAY], [N_END_BLACK, N_END_GRAY], [PHI_END_BLACK, PHI_END_GRAY]],
  [[RHO_A_BLACK, RHO_A_GRAY], [TAU_A_BLACK, TAU_A_GRAY], [V_A_BLACK, V_A_GRAY], [N_A_BLACK, N_A_GRAY], [PHI_A_BLACK, PHI_A_GRAY]],
  [[RHO_B_BLACK, RHO_B_GRAY], [TAU_B_BLACK, TAU_B_GRAY], [V_B_BLACK, V_B_GRAY], [N_B_BLACK, N_B_GRAY], [PHI_B_BLACK, PHI_B_GRAY]],
];

// ---------- layout ----------
const COL_LEFT = [205, 427, 652, 886, 1118];
const COL_W = [163, 160, 157, 159, 159];
const ROW_TOP = [39, 200, 361];
const ROW_H = [154, 155, 158];
const ROW_CY = [113, 277, 442];

const SANS = 'Liberation Sans';
const SERIF = 'Liberation Serif';
const GRAY = '#ababab';
const LINE_GRAY = '#9c9c9c';
const LABEL_GRAY = '#8f8f8f';

function pairs(xs: number[], ys: number[]) {
  const n = Math.min(xs.length, ys.length);
  const out: number[][] = [];
  for (let i = 0; i < n; i++) out.push([xs[i], ys[i]]);
  return out;
}

function textWidth(text: string, font: string) {
  const ctx = document.createElement('canvas').getContext('2d');
  if (!ctx) return text.length * 10;
  ctx.font = font;
  return ctx.measureText(text).width;
}

function makeRich() {
  return {
    h: { fontFamily: SERIF, fontStyle: 'italic', fontSize: 13, color: LABEL_GRAY, lineHeight: 15, verticalAlign: 'bottom' },
    s: { fontFamily: SERIF, fontStyle: 'italic', fontSize: 9, color: LABEL_GRAY, lineHeight: 8, verticalAlign: 'bottom' },
    p: { fontFamily: SERIF, fontSize: 13, color: LABEL_GRAY, lineHeight: 15, verticalAlign: 'bottom' },
  };
}

function buildOption() {
  const grid: any[] = [];
  const xAxis: any[] = [];
  const yAxis: any[] = [];
  const series: any[] = [];
  const axisLine = { show: true, onZero: false, lineStyle: { color: '#000', width: 1 } };
  const axisTick = { show: true, inside: true, length: 4, lineStyle: { color: '#000', width: 1 } };
  const minor = (n: number) => ({ show: true, splitNumber: n, length: 2, lineStyle: { color: '#000', width: 1 } });

  for (let r = 0; r < 3; r++) {
    for (let c = 0; c < 5; c++) {
      const k = r * 5 + c;
      grid.push({ left: COL_LEFT[c], top: ROW_TOP[r], width: COL_W[c], height: ROW_H[r] });
      const showX = r === 2;
      const xBase = {
        gridIndex: k, type: 'value', min: X_TICKS[0], max: 12.4, interval: X_TICKS[1] - X_TICKS[0],
        axisLine, axisTick, minorTick: minor(4), splitLine: { show: false },
      };
      xAxis.push({
        ...xBase, position: 'bottom',
        axisLabel: { show: showX, fontSize: 14, color: '#000', fontFamily: SANS, margin: 6, showMaxLabel: false },
      });
      xAxis.push({ ...xBase, position: 'top', axisLabel: { show: false } });
      const dec = Y_DEC[r][c];
      const yBase = {
        gridIndex: k, type: 'value', min: 0, max: Y_MAX[r][c], interval: Y_STEP[r][c],
        axisLine, axisTick, minorTick: minor(Y_MINOR[r][c]), splitLine: { show: false },
      };
      yAxis.push({
        ...yBase, position: 'left',
        axisLabel: {
          show: true, fontSize: 14, color: '#000', fontFamily: SANS, margin: 4, showMaxLabel: false,
          formatter: (v: number) => v.toFixed(dec),
        },
      });
      yAxis.push({ ...yBase, position: 'right', axisLabel: { show: false } });

      const xi = 2 * k;
      const ymax = Y_MAX[r][c];
      let lines: number[] = [];
      let labels: any[] = [];
      if (r === 0 && c < 4) {
        lines = LINES_END;
        labels = [
          { value: [LINES_END[0], ymax * 0.895], text: '{h|F}', pos: 'left' },
          { value: [LINES_END[1], ymax * 0.895], text: '{h|H}{s|1}', pos: 'left' },
          { value: [LINES_END[2], ymax * 0.895], text: '{h|H}{s|2}', pos: 'left' },
        ];
      } else if (r > 0) {
        lines = LINES_START;
        const fy = r === 1 ? 0.87 : 0.89;
        labels = [
          { value: [LINES_START[0], ymax * fy], text: '{p|ϕ}', pos: 'right' },
          { value: [LINES_START[1], ymax * fy], text: '{h|F}', pos: 'left' },
          { value: [LINES_START[2], ymax * fy], text: '{h|H}{s|1}', pos: 'left' },
          { value: [LINES_START[3], ymax * (r === 1 ? 0.9 : 0.92)], text: '{p|ϕ}{s|1}', pos: 'left' },
          { value: [LINES_START[3], ymax * (r === 1 ? 0.78 : 0.79)], text: '{h|H}{s|2}', pos: 'left' },
        ];
      }
      series.push({
        type: 'scatter', xAxisIndex: xi, yAxisIndex: xi, symbolSize: 1, silent: true, z: 1,
        color: LABEL_GRAY,
        itemStyle: { color: LABEL_GRAY, opacity: 0 },
        data: labels.map((l) => ({
          value: l.value,
          label: {
            show: true, position: l.pos, distance: 2, formatter: l.text, rich: makeRich(),
            color: LABEL_GRAY, opacity: 1,
          },
        })),
        markLine: {
          silent: true, symbol: ['none', 'none'], animation: false,
          label: { show: false },
          lineStyle: { color: LINE_GRAY, width: 1, type: 'solid' },
          data: lines.map((v) => ({ xAxis: v })),
        },
      });

      const xs = ROW_FREQ[r][c];
      const [black, grays] = ROW_DATA[r][c] as [number[], number[][]];
      const spiky = r === 0 && c < 4;
      const filled = spiky && c !== 2;
      grays.forEach((g, gi) => {
        series.push({
          type: 'line', xAxisIndex: xi, yAxisIndex: xi, data: pairs(xs, g),
          showSymbol: false, symbol: 'none', silent: true, z: 2,
          smooth: spiky ? false : 0.3, smoothMonotone: 'x',
          lineStyle: { color: GRAY, width: 1 },
          areaStyle: filled && gi === 0 ? { color: '#bdbdbd', opacity: 1 } : undefined,
        });
      });
      series.push({
        type: 'line', xAxisIndex: xi, yAxisIndex: xi, data: pairs(xs, black),
        showSymbol: false, symbol: 'none', silent: true, z: 3,
        smooth: spiky ? false : 0.3, smoothMonotone: 'x',
        lineStyle: { color: '#000', width: 2.2 },
      });
    }
  }

  const graphic: any[] = [];
  for (let c = 0; c < 5; c++) {
    const cx = COL_LEFT[c] + COL_W[c] / 2;
    graphic.push({
      type: 'text', x: cx, y: 18, silent: true,
      style: {
        text: COL_TITLES[c], textAlign: 'center', textVerticalAlign: 'middle', align: 'center', verticalAlign: 'middle',
        rich: {
          n: { fontFamily: SERIF, fontSize: 25, color: '#000' },
          i: { fontFamily: SERIF, fontSize: 25, fontStyle: 'italic', color: '#000' },
        },
      },
    });
    // x-axis title under the bottom row
    graphic.push({
      type: 'text', x: cx, y: 554, silent: true,
      style: {
        text: '{i|f}{n| (kHz)}', textAlign: 'center', textVerticalAlign: 'middle', align: 'center', verticalAlign: 'middle',
        rich: {
          n: { fontFamily: SERIF, fontSize: 24, color: '#000' },
          i: { fontFamily: SERIF, fontSize: 24, fontStyle: 'italic', color: '#000' },
        },
      },
    });
  }
  const mainFont = `28px "${SERIF}"`;
  const subFont = `18px "${SERIF}"`;
  const wT = textWidth('t', mainFont);
  for (let r = 0; r < 3; r++) {
    const [sub, rest] = ROW_LABELS[r];
    const x0 = 8;
    const wSub = textWidth(sub, subFont);
    const cy = ROW_CY[r];
    graphic.push({
      type: 'text', x: x0, y: cy, silent: true,
      style: { text: 't', fontFamily: SERIF, fontSize: 28, fill: '#000', textAlign: 'left', textVerticalAlign: 'middle', align: 'left', verticalAlign: 'middle' },
    });
    graphic.push({
      type: 'text', x: x0 + wT, y: cy + 9, silent: true,
      style: { text: sub, fontFamily: SERIF, fontSize: 18, fill: '#000', textAlign: 'left', textVerticalAlign: 'middle', align: 'left', verticalAlign: 'middle' },
    });
    graphic.push({
      type: 'text', x: x0 + wT + wSub + 4, y: cy, silent: true,
      style: { text: rest, fontFamily: SERIF, fontSize: 28, fill: '#000', textAlign: 'left', textVerticalAlign: 'middle', align: 'left', verticalAlign: 'middle' },
    });
  }

  return {
    animation: false,
    backgroundColor: '#fff',
    color: ['#000'],
    textStyle: { fontFamily: SANS },
    grid, xAxis, yAxis, series, graphic,
  };
}

export default function App() {
  const ref = useRef<HTMLDivElement>(null);
  useEffect(() => {
    if (!ref.current) return;
    const chart = echarts.init(ref.current, undefined, { renderer: 'svg' });
    chart.setOption(buildOption() as any);
    return () => chart.dispose();
  }, []);
  return <div ref={ref} style={{ position: 'absolute', left: 0, top: 0, width: 1310, height: 577 }} />;
}
